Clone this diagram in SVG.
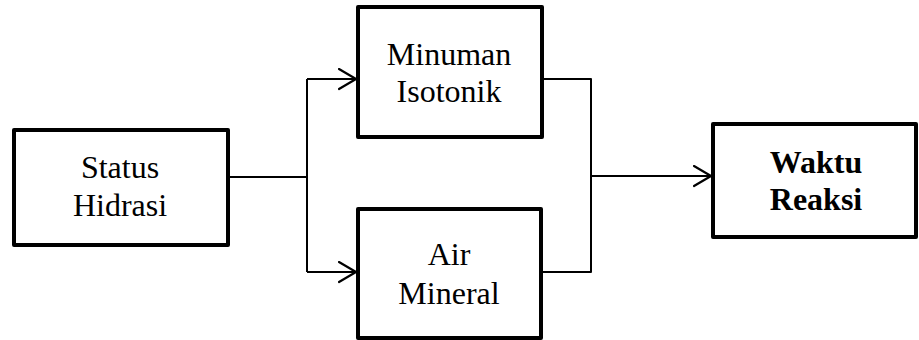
<svg xmlns="http://www.w3.org/2000/svg" width="919" height="340" viewBox="0 0 919 340">
<defs>
<style>
.box{fill:#fff;stroke:#000;stroke-width:4;stroke-linejoin:round}
.t{font-family:"Liberation Serif","Times New Roman",serif;font-size:32px;fill:#000;text-anchor:middle}
.b{font-weight:bold}
.c{fill:none;stroke:#000;stroke-width:2;stroke-linejoin:round}
</style>
<marker id="ah" markerUnits="userSpaceOnUse" markerWidth="22" markerHeight="24" refX="18" refY="11" orient="auto" viewBox="0 0 22 24">
<path d="M1,1 L18,11 L1,21" fill="none" stroke="#000" stroke-width="2.2" stroke-linecap="round" stroke-linejoin="round"/>
</marker>
</defs>
<g id="connectors">
<path class="c" d="M228,177 H307"/>
<path class="c" d="M307,79 V272"/>
<path class="c" d="M307,79 H356" marker-end="url(#ah)"/>
<path class="c" d="M307,272 H356" marker-end="url(#ah)"/>
<path class="c" d="M542,79 H591 V272 H541"/>
<path class="c" d="M591,176 H711" marker-end="url(#ah)"/>
</g>
<g id="status-hidrasi">
<rect class="box" x="14" y="130" width="214" height="115"/>
<text class="t" x="120" y="178">Status</text>
<text class="t" x="120" y="216">Hidrasi</text>
</g>
<g id="minuman-isotonik">
<rect class="box" x="358" y="7" width="184" height="130"/>
<text class="t" x="449" y="65">Minuman</text>
<text class="t" x="449" y="102">Isotonik</text>
</g>
<g id="air-mineral">
<rect class="box" x="358" y="209" width="183" height="129"/>
<text class="t" x="449" y="265">Air</text>
<text class="t" x="449" y="304">Mineral</text>
</g>
<g id="waktu-reaksi">
<rect class="box" x="713" y="124" width="203" height="113"/>
<text class="t b" x="816" y="173">Waktu</text>
<text class="t b" x="816" y="210">Reaksi</text>
</g>
</svg>
